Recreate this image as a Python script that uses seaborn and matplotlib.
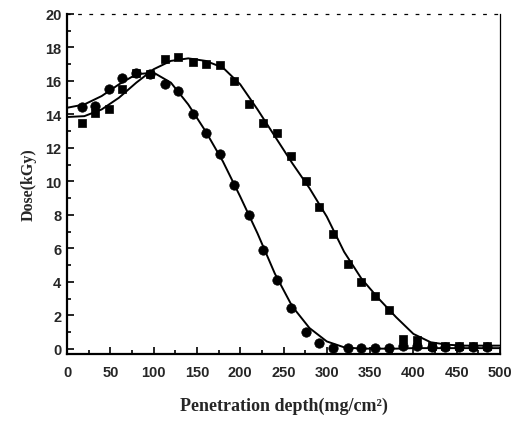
import matplotlib
matplotlib.use("Agg")
import matplotlib.pyplot as plt
import seaborn as sns
import pandas as pd
from matplotlib.ticker import MultipleLocator

# ---- data ----
depth = [17, 32, 49, 64, 80, 96, 113, 128.5, 145, 161, 177, 193, 210, 226.7, 243,
         259, 276, 291, 307.5, 324, 340, 356, 372, 388, 404.5, 421, 437, 453, 469, 485]
dose_circle = [14.45, 14.5, 15.5, 16.2, 16.5, 16.4, 15.8, 15.4, 14.0, 12.9, 11.65, 9.8,
               8.0, 5.93, 4.14, 2.43, 1.0, 0.34, 0.05, 0.05, 0.05, 0.05, 0.05, 0.15,
               0.15, 0.1, 0.1, 0.1, 0.1, 0.1]
dose_square = [13.5, 14.1, 14.3, 15.5, 16.45, 16.4, 17.3, 17.45, 17.15, 17.0, 16.95, 16.0,
               14.6, 13.5, 12.9, 11.5, 10.0, 8.5, 6.87, 5.07, 3.98, 3.18, 2.33, 0.6,
               0.56, 0.15, 0.15, 0.15, 0.15, 0.15]

# fitted curves
fit_x = [0, 20, 40, 60, 80, 100, 120, 140, 160, 180, 200, 220, 240, 260, 280, 300,
         320, 340, 360, 380, 400, 420, 440, 460, 480, 500]
fit_circle = [14.4, 14.6, 15.1, 15.8, 16.4, 16.5, 15.9, 14.6, 13.0, 11.2, 9.1, 6.9,
              4.5, 2.55, 1.25, 0.45, 0.1, 0.02, 0.02, 0.02, 0.05, 0.05, 0.05, 0.05,
              0.05, 0.05]
fit_square = [13.85, 13.9, 14.3, 15.0, 15.9, 16.7, 17.2, 17.35, 17.2, 16.8, 15.8, 14.3,
              12.7, 11.1, 9.6, 7.9, 5.8, 4.2, 3.0, 1.9, 0.9, 0.4, 0.25, 0.2, 0.2, 0.2]

xticks = [0, 50, 100, 150, 200, 250, 300, 350, 400, 450, 500]
yticks = [0, 2, 4, 6, 8, 10, 12, 14, 16, 18, 20]

pts = pd.DataFrame({"depth": depth, "circle": dose_circle, "square": dose_square})
fit = pd.DataFrame({"x": fit_x, "circle": fit_circle, "square": fit_square})

sns.set_style("ticks")
fig = plt.figure(figsize=(5.21, 4.27), dpi=100)
ax = fig.add_axes([0.1286, 0.1686, 0.8311, 0.7963])

sns.lineplot(data=fit, x="x", y="circle", ax=ax, color="black", linewidth=1.4)
sns.lineplot(data=fit, x="x", y="square", ax=ax, color="black", linewidth=1.4)
sns.scatterplot(data=pts, x="depth", y="circle", ax=ax, marker="o", s=46,
                color="black", edgecolor="black", linewidth=0.5, zorder=3)
sns.scatterplot(data=pts, x="depth", y="square", ax=ax, marker="s", s=40,
                color="black", edgecolor="black", linewidth=0.5, zorder=3)

ax.set_xlim(0, 500)
ax.set_ylim(-0.3, 20)
ax.set_xticks(xticks)
ax.set_yticks(yticks)
ax.xaxis.set_minor_locator(MultipleLocator(25))
ax.yaxis.set_minor_locator(MultipleLocator(1))
ax.tick_params(which="both", direction="in", color="black", width=1.2)
ax.tick_params(which="major", length=5)
ax.tick_params(which="minor", length=3)
ax.tick_params(axis="x", which="major", pad=8)
ax.tick_params(axis="y", which="major", pad=4)
for lab in ax.get_xticklabels() + ax.get_yticklabels():
    lab.set_fontfamily("Liberation Sans")
    lab.set_fontweight("bold")
    lab.set_fontsize(10.5)

ax.spines["left"].set_linewidth(1.6)
ax.spines["bottom"].set_linewidth(1.6)
ax.spines["right"].set_linewidth(0.9)
ax.spines["top"].set_linewidth(0.9)
ax.spines["top"].set_linestyle((0, (2, 7)))
for s in ax.spines.values():
    s.set_color("black")

ax.set_xlabel("Penetration depth(mg/cm²)", fontfamily="Liberation Serif",
              fontweight="bold", fontsize=13, labelpad=13)
ax.set_ylabel("Dose(kGy)", fontfamily="Liberation Serif", fontweight="bold",
              fontsize=11.5, labelpad=6)

fig.savefig("out.png", dpi=100)
